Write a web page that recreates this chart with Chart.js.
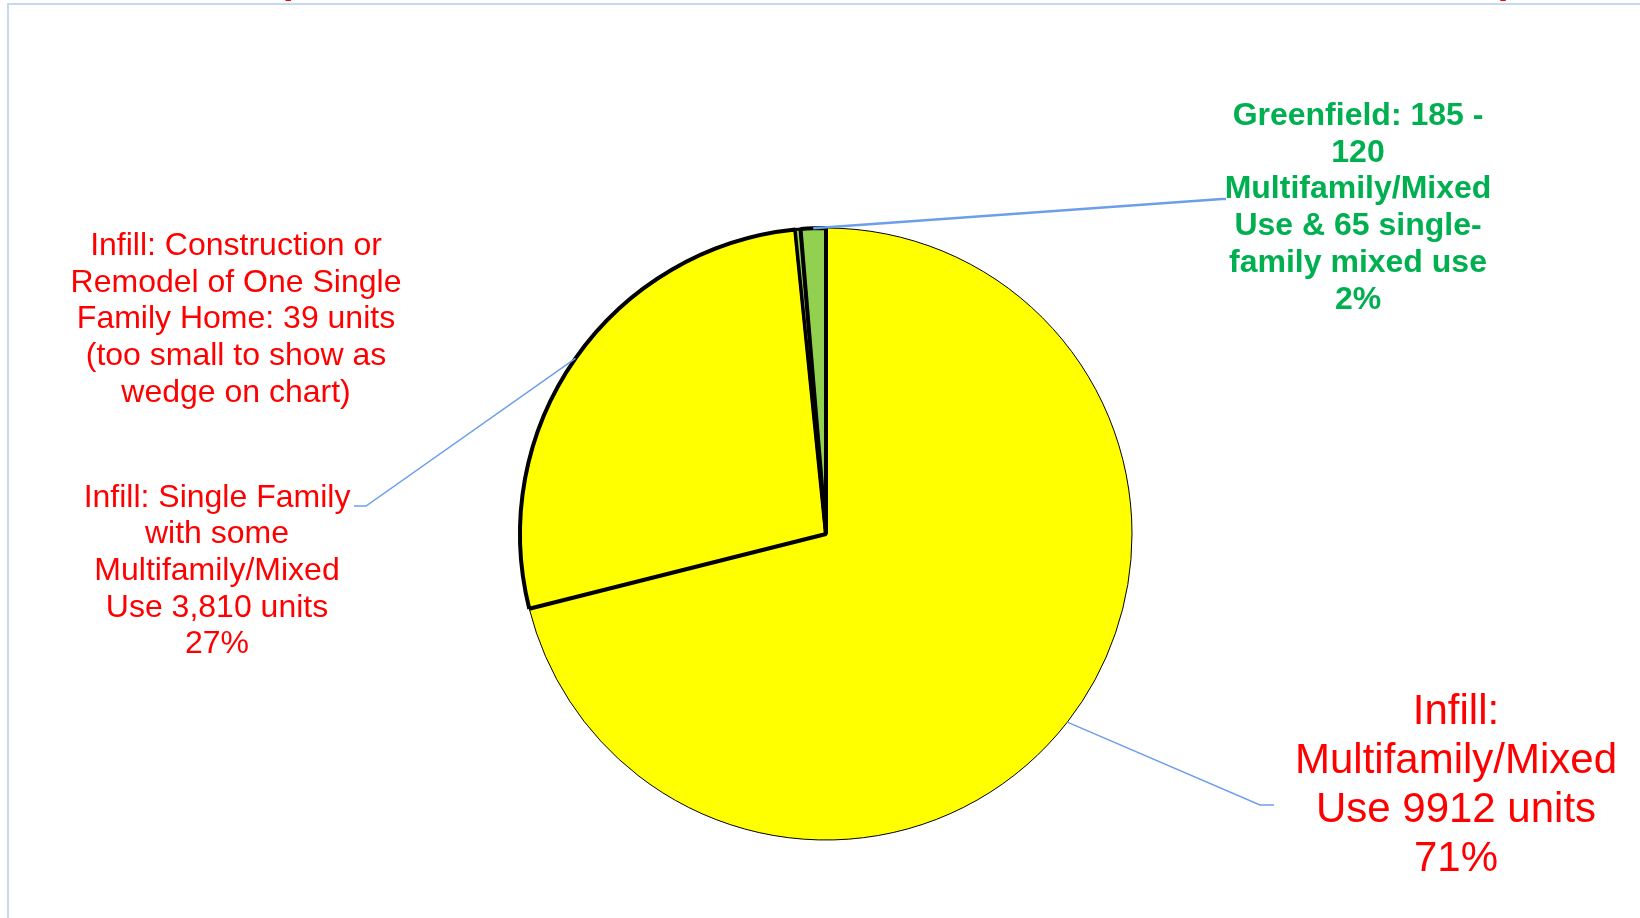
<!DOCTYPE html>
<html>
<head>
<meta charset="utf-8">
<title>Housing units by development type</title>
<script src="https://cdn.jsdelivr.net/npm/chart.js@4/dist/chart.umd.min.js"></script>
<style>
  html, body { margin: 0; padding: 0; background: #fff; }
  #wrap { width: 1640px; height: 918px; }
</style>
</head>
<body>
<div id="wrap"><canvas id="pie" width="1640" height="918"></canvas></div>
<script>
// units per development type, clockwise from 12 o'clock
const categories = [
  "Infill: Multifamily/Mixed Use",
  "Infill: Single Family with some Multifamily/Mixed Use",
  "Infill: Construction or Remodel of One Single Family Home",
  "Greenfield"
];
const units = [9912, 3810, 39, 185];
const sliceColors = ["#ffff00", "#ffff00", "#92d050", "#92d050"];
const sliceBorders = [1, 4, 3, 4];

// callout text, one entry per slice
const labelLines = [
  ["Infill:", "Multifamily/Mixed", "Use 9912 units", "71%"],
  ["Infill: Single Family", "with some", "Multifamily/Mixed", "Use 3,810 units", "27%"],
  ["Infill: Construction or", "Remodel of One Single", "Family Home: 39 units", "(too small to show as", "wedge on chart)"],
  ["Greenfield: 185 -", "120", "Multifamily/Mixed", "Use & 65 single-", "family mixed use", "2%"]
];

const FONT = "'Liberation Sans', Arial, sans-serif";
const LEADER = "#6d9eeb";

// where each callout sits and where its leader line bends
const callouts = [
  { x: 1456, y: 712, lh: 49, font: "42px " + FONT, color: "#ff0000", elbow: [1260, 805], tail: [1274, 805], lw: 1.5 },
  { x: 217, y: 498, lh: 36.6, font: "32px " + FONT, color: "#ff0000", elbow: [366, 506], tail: [354, 506], lw: 1.5 },
  { x: 236, y: 246, lh: 36.7, font: "32px " + FONT, color: "#ff0000", elbow: null },
  { x: 1358, y: 116, lh: 36.8, font: "bold 32px " + FONT, color: "#00b050", elbow: [1222, 199], tail: [1226, 199], lw: 2.5 }
];

const frameAndCallouts = {
  id: "frameAndCallouts",
  beforeDraw(chart) {
    const ctx = chart.ctx;
    ctx.save();
    // outer frame of the plot
    ctx.strokeStyle = "#c6d9f1";
    ctx.lineWidth = 2;
    ctx.beginPath();
    ctx.moveTo(8, 918);
    ctx.lineTo(8, 4);
    ctx.lineTo(1640, 4);
    ctx.stroke();
    // bottom of the title brackets peeking in above the frame
    ctx.fillStyle = "#ff0000";
    ctx.font = "bold 40px " + FONT;
    ctx.textBaseline = "alphabetic";
    ctx.textAlign = "left";
    ctx.fillText("(", 278, -7);
    ctx.fillText(")", 1500, -7);
    ctx.restore();
  },
  afterDraw(chart) {
    const ctx = chart.ctx;
    const arcs = chart.getDatasetMeta(0).data;
    ctx.save();
    callouts.forEach((c, i) => {
      if (c.elbow) {
        const a = arcs[i];
        const mid = (a.startAngle + a.endAngle) / 2;
        const ex = a.x + Math.cos(mid) * a.outerRadius;
        const ey = a.y + Math.sin(mid) * a.outerRadius;
        ctx.strokeStyle = LEADER;
        ctx.lineWidth = c.lw;
        ctx.beginPath();
        ctx.moveTo(ex, ey);
        ctx.lineTo(c.elbow[0], c.elbow[1]);
        ctx.lineTo(c.tail[0], c.tail[1]);
        ctx.stroke();
      }
      ctx.fillStyle = c.color;
      ctx.font = c.font;
      ctx.textAlign = "center";
      ctx.textBaseline = "middle";
      labelLines[i].forEach((line, k) => {
        ctx.fillText(line, c.x, c.y + k * c.lh);
      });
    });
    ctx.restore();
  }
};

new Chart(document.getElementById("pie").getContext("2d"), {
  type: "pie",
  data: {
    labels: categories,
    datasets: [{
      data: units,
      backgroundColor: sliceColors,
      borderColor: "#000000",
      borderWidth: sliceBorders
    }]
  },
  options: {
    responsive: false,
    animation: false,
    radius: 306,
    layout: { padding: { left: 12, right: 0, top: 150, bottom: 0 } },
    plugins: {
      legend: { display: false },
      tooltip: { enabled: false }
    },
    events: []
  },
  plugins: [frameAndCallouts]
});
</script>
</body>
</html>
